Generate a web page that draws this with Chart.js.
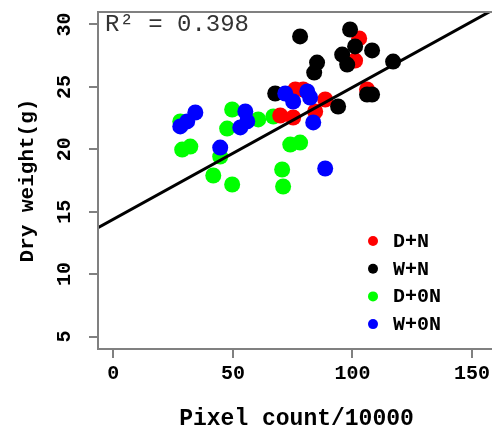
<!DOCTYPE html>
<html>
<head>
<meta charset="utf-8">
<script src="https://cdn.jsdelivr.net/npm/chart.js@4"></script>
<style>
  html, body { margin: 0; padding: 0; background: #fff; overflow: hidden; }
  #wrap { position: absolute; left: 0; top: 0; width: 530px; height: 440px; }
</style>
</head>
<body>
<div id="wrap"><canvas id="chart" width="530" height="440"></canvas></div>
<script>
// groups shown in the legend
const groups = ['D+N', 'W+N', 'D+0N', 'W+0N'];
const groupColors = ['#ff0000', '#000000', '#00ff00', '#0000ff'];

// D+N
const dnX = [102.8, 101.1, 76.1, 79.4, 88.6, 84.4, 75.2, 69.8, 106.1];
const dnY = [28.88, 27.11, 24.79, 24.79, 23.99, 23.03, 22.55, 22.71, 24.79];
// W+N
const wnX = [78.1, 99.0, 101.1, 95.7, 97.8, 108.2, 117.0, 85.2, 84.0, 67.7, 94.0, 106.1, 108.2];
const wnY = [29.04, 29.6, 28.24, 27.59, 26.79, 27.92, 27.03, 26.95, 26.15, 24.47, 23.43, 24.39, 24.39];
// D+0N
const d0X = [28.0, 28.8, 32.2, 44.7, 49.7, 47.6, 41.8, 49.7, 60.6, 66.9, 74.0, 78.1, 70.6, 71.0];
const d0Y = [22.23, 19.98, 20.22, 19.42, 23.19, 21.66, 17.90, 17.18, 22.39, 22.63, 20.38, 20.54, 18.38, 17.02];
// W+0N
const w0X = [34.3, 30.9, 28.0, 44.7, 55.2, 56.0, 53.1, 88.6, 83.6, 71.9, 75.2, 81.1, 82.3];
const w0Y = [22.95, 22.23, 21.83, 20.14, 23.03, 22.23, 21.75, 18.46, 22.15, 24.47, 23.83, 24.63, 24.15];

// fitted line end points
const fitX = [-6.4, 166.4];
const fitY = [13.71, 31.98];
const rSquared = '0.398';

const xTicks = [0, 50, 100, 150];
const yTicks = [5, 10, 15, 20, 25, 30];

function toPoints(xs, ys) {
  return xs.map((x, i) => ({ x: x, y: ys[i] }));
}

const seriesX = [dnX, wnX, d0X, w0X];
const seriesY = [dnY, wnY, d0Y, w0Y];
const drawOrder = [3, 2, 4, 1]; // blue on top, green underneath

const datasets = groups.map((g, i) => ({
  type: 'scatter',
  label: g,
  data: toPoints(seriesX[i], seriesY[i]),
  backgroundColor: groupColors[i],
  borderWidth: 0,
  pointRadius: 8,
  order: drawOrder[i]
}));

datasets.push({
  type: 'line',
  label: '',
  data: toPoints(fitX, fitY),
  borderColor: '#000',
  borderWidth: 3,
  pointRadius: 0,
  fill: false,
  clip: 0,
  order: 0
});

const axisGrey = '#808080';
const monoBold = { family: 'Liberation Mono', size: 20, weight: 'bold' };

// box, R² text and legend
const extras = {
  id: 'extras',
  afterDraw(chart) {
    const ctx = chart.ctx;
    const a = chart.chartArea;
    ctx.save();
    ctx.strokeStyle = axisGrey;
    ctx.lineWidth = 2;
    ctx.strokeRect(a.left, a.top, a.right - a.left, a.bottom - a.top);

    ctx.fillStyle = '#333';
    ctx.font = '24px "Liberation Mono"';
    ctx.textBaseline = 'alphabetic';
    ctx.textAlign = 'left';
    ctx.fillText('R\u00b2 = ' + rSquared, 105, 31);

    ctx.font = 'bold 20px "Liberation Mono"';
    ctx.textBaseline = 'middle';
    groups.forEach((g, i) => {
      const y = 241 + i * 27.7;
      ctx.fillStyle = groupColors[i];
      ctx.beginPath();
      ctx.arc(373, y, 5, 0, Math.PI * 2);
      ctx.fill();
      ctx.fillStyle = '#000';
      ctx.fillText(g, 393, y + 1);
    });
    ctx.restore();
  }
};

new Chart(document.getElementById('chart'), {
  data: { datasets: datasets },
  options: {
    responsive: false,
    animation: false,
    events: [],
    devicePixelRatio: 1,
    layout: { padding: { top: 12, right: 35, left: 0, bottom: 0 } },
    plugins: { legend: { display: false }, tooltip: { enabled: false } },
    scales: {
      x: {
        type: 'linear',
        min: -6.4,
        max: 159.6,
        afterBuildTicks: s => { s.ticks = xTicks.map(v => ({ value: v })); },
        afterFit: s => { s.height = 91; s.paddingLeft = 0; s.paddingRight = 0; },
        grid: { drawOnChartArea: false, drawTicks: true, tickLength: 9, color: axisGrey, lineWidth: 2 },
        border: { display: false },
        ticks: { color: '#000', font: monoBold, padding: 4, maxRotation: 0 },
        title: { display: true, text: 'Pixel count/10000', color: '#000',
                 font: { family: 'Liberation Mono', size: 23, weight: 'bold' }, padding: 7 }
      },
      y: {
        type: 'linear',
        min: 4,
        max: 31,
        afterBuildTicks: s => { s.ticks = yTicks.map(v => ({ value: v })); },
        afterFit: s => { s.width = 98; s.paddingTop = 0; s.paddingBottom = 0; },
        grid: { drawOnChartArea: false, drawTicks: true, tickLength: 9, color: axisGrey, lineWidth: 2 },
        border: { display: false },
        ticks: { color: '#000', font: monoBold, padding: 12, minRotation: 90, maxRotation: 90, crossAlign: 'center' },
        title: { display: true, text: 'Dry weight(g)', color: '#000',
                 font: { family: 'Liberation Mono', size: 21, weight: 'bold' }, padding: 15 }
      }
    }
  },
  plugins: [extras]
});
</script>
</body>
</html>
